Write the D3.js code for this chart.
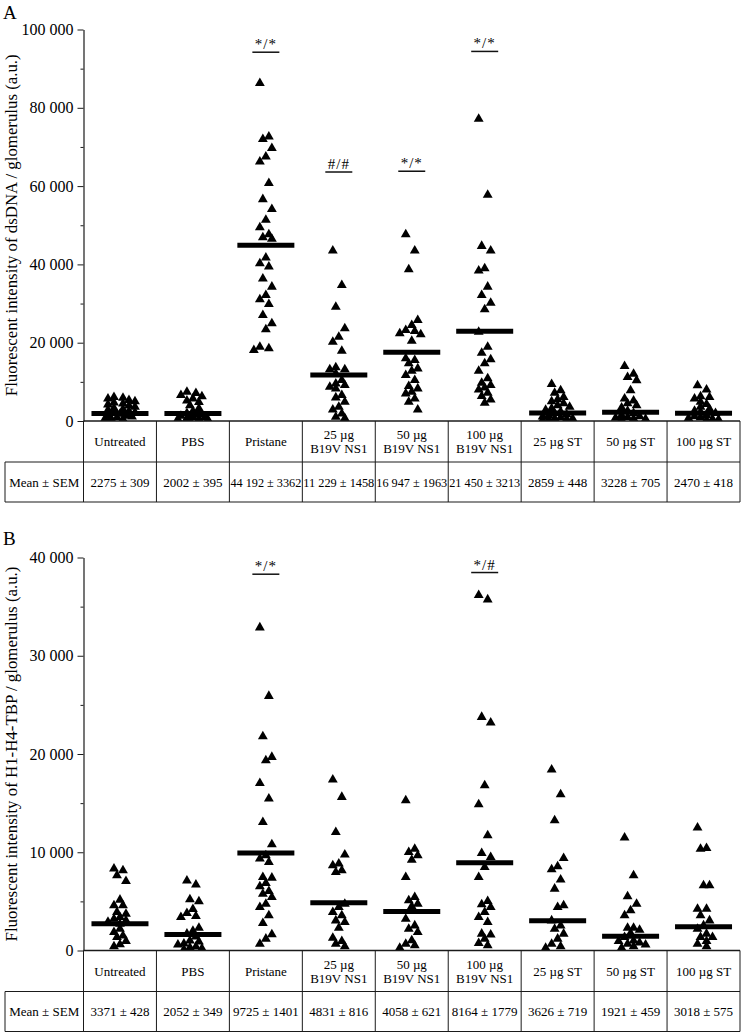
<!DOCTYPE html>
<html>
<head>
<meta charset="utf-8">
<script src="https://cdn.jsdelivr.net/npm/d3@7"></script>
<style>
  html, body { margin: 0; padding: 0; background: #fff; }
  svg { display: block; }
  text { font-family: "Liberation Serif", "DejaVu Serif", serif; fill: #000; }
</style>
</head>
<body>
<script>
// ---------------- DATA ----------------
const categories = ["Untreated", "PBS", "Pristane", "25 µg|B19V NS1", "50 µg|B19V NS1",
                    "100 µg|B19V NS1", "25 µg ST", "50 µg ST", "100 µg ST"];

// Panel A : dsDNA
const untreatedA = [6100, 5900, 5700, 5300, 5000, 4700, 4400, 4200, 3900, 3600, 3300, 3000, 2800, 2500, 2200, 2000, 1800, 1500, 1300, 1100, 900, 700, 600, 500];
const pbsA = [7400, 7100, 6600, 6300, 5700, 5200, 4800, 4000, 3200, 2500, 2000, 1600, 1300, 1000, 900, 700, 600, 500, 400, 300];
const pristaneA = [86300, 72650, 71980, 69680, 67530, 66250, 60730, 56630, 54080, 51340, 49470, 47680, 46910, 46500, 41700, 40260, 39400, 36330, 34280, 32150, 31050, 29850, 27040, 24910, 23380, 18930, 18520, 18100];
const ns25A = [43490, 34710, 29160, 23640, 21490, 20210, 17910, 13660, 13150, 13150, 12120, 10410, 9560, 9130, 8700, 8280, 6570, 5990, 4860, 3580, 2920, 1890, 1020, 690];
const ns50A = [47680, 43490, 38720, 25760, 24480, 23200, 22950, 22360, 22100, 20460, 15960, 15530, 14680, 13400, 12790, 11690, 10410, 8880, 8290, 7420, 7010, 5730, 4860, 2920];
const ns100A = [77180, 57730, 44690, 43490, 38980, 38370, 34280, 32150, 30180, 28490, 22770, 18930, 17390, 15710, 14680, 12790, 10850, 9720, 9130, 8540, 8030, 7160, 6320, 5470, 4600];
const st25A = [9400, 7800, 7200, 6100, 5500, 5000, 4500, 4000, 3600, 3200, 2800, 2400, 2000, 1700, 1400, 1100, 900, 700, 600, 500, 400, 300];
const st50A = [14000, 12000, 11200, 10400, 7800, 5700, 5200, 4500, 4000, 3400, 2600, 2000, 1500, 1200, 1000, 800, 600, 500, 400];
const st100A = [9100, 8000, 6300, 6100, 5700, 4900, 4300, 3600, 3100, 2600, 2300, 2000, 1500, 1200, 900, 700, 500, 400, 300];
const barA = [1890, 1890, 44870, 11770, 17570, 22950, 2050, 2230, 1970];
const semA = ["2275 ± 309", "2002 ± 395", "44 192 ± 3362", "11 229 ± 1458", "16 947 ± 1963",
              "21 450 ± 3213", "2859 ± 448", "3228 ± 705", "2470 ± 418"];
const ticksA = [0, 20000, 40000, 60000, 80000, 100000];
const minorA = [10000, 30000, 50000, 70000, 90000];
const sigA = [
  { cat: "Pristane", label: "*/*", level: 94200 },
  { cat: "25 µg|B19V NS1", label: "#/#", level: 63600 },
  { cat: "50 µg|B19V NS1", label: "*/*", level: 63800 },
  { cat: "100 µg|B19V NS1", label: "*/*", level: 94400 }
];

// Panel B : H1-H4-TBP
const untreatedB = [8320, 8150, 7640, 7060, 5160, 4580, 4580, 3900, 3730, 3390, 3220, 3050, 2900, 2710, 2200, 1870, 1500, 1360, 950, 610, 410];
const pbsB = [7100, 6700, 5200, 5000, 4200, 3800, 3500, 3400, 2300, 2000, 1700, 1400, 1000, 900, 700, 600, 400, 300, 200, 100];
const pristaneB = [32870, 25900, 21800, 19690, 19350, 17040, 15450, 13070, 10800, 9680, 9340, 8990, 7470, 7400, 6860, 6520, 6040, 5760, 5430, 4750, 4410, 3570, 2780, 1630, 1190, 680];
const ns25B = [17390, 15620, 12050, 9750, 8830, 8660, 8150, 7980, 4750, 4410, 3900, 3570, 3050, 2880, 2300, 1290, 950, 680, 410];
const ns50B = [15280, 10350, 10010, 9680, 9220, 7470, 5430, 5090, 4750, 4480, 3220, 2540, 2200, 1870, 1020, 680, 510, 270];
const ns100B = [36160, 35720, 23760, 23190, 16810, 14870, 11710, 9910, 9500, 8490, 7470, 5020, 4680, 4410, 3900, 3390, 2880, 1700, 1600, 1190, 750, 510];
const st25B = [18400, 15890, 13240, 9400, 8560, 8250, 7200, 6280, 4580, 4410, 3050, 2540, 2200, 1700, 1190, 680, 410, 270];
const st50B = [11480, 7640, 5500, 4750, 4070, 3570, 2300, 2300, 2100, 1770, 1360, 1000, 950, 800, 680, 600, 410, 270];
const st100B = [12500, 10420, 10350, 6620, 6620, 4240, 4240, 3570, 3050, 2540, 2200, 1700, 1360, 1360, 950, 680, 410];
const barB = [2720, 1630, 9915, 4860, 3975, 8935, 3025, 1460, 2410];
const semB = ["3371 ± 428", "2052 ± 349", "9725 ± 1401", "4831 ± 816", "4058 ± 621",
              "8164 ± 1779", "3626 ± 719", "1921 ± 459", "3018 ± 575"];
const ticksB = [0, 10000, 20000, 30000, 40000];
const minorB = [5000, 15000, 25000, 35000];
const sigB = [
  { cat: "Pristane", label: "*/*", level: 38300 },
  { cat: "100 µg|B19V NS1", label: "*/#", level: 38470 }
];

const rowLabel = "Mean ± SEM";

// ---------------- DRAWING ----------------
const W = 743, H = 1035;
const svg = d3.select("body").append("svg").attr("width", W).attr("height", H);
const fmt = d3.formatLocale({ decimal: ".", thousands: " ", grouping: [3], currency: ["", ""] }).format(",d");
const LINE = "#1a1a1a";

function swarm(vals, y, cx) {
  const pts = vals.map(v => ({ v, py: y(v) })).sort((a, b) => b.v - a.v);
  const placed = [];
  const steps = [];
  for (let k = -5; k <= 5; k++) steps.push(k * 3);
  pts.forEach((p, i) => {
    const pref = ((i * 3) % 5 - 2) * 3;
    const cand = steps.slice().sort((a, b) => Math.abs(a - pref) - Math.abs(b - pref) || a - b);
    let best = cand[0], bestScore = -1;
    for (const o of cand) {
      let minD = Infinity;
      for (const q of placed) {
        const dx = (q.px - (cx + o)) / 6, dy = (q.py - p.py) / 5;
        const d = Math.hypot(dx, dy);
        if (d < minD) minD = d;
      }
      if (minD >= 1) { best = o; bestScore = minD; break; }
      if (minD > bestScore) { bestScore = minD; best = o; }
    }
    p.px = cx + best;
    placed.push(p);
  });
  return placed;
}

function panel(cfg) {
  const g = svg.append("g");
  const y = d3.scaleLinear().domain([0, cfg.max]).range([cfg.y0, cfg.y1]);
  const x = d3.scaleBand().domain(categories).range([83.5, 740]).padding(0);
  const bw = x.bandwidth();

  // panel letter
  g.append("text").attr("x", 3).attr("y", cfg.letterY).attr("font-size", 19).text(cfg.letter);

  // y title, sized to span the axis as in the reference
  const t = g.append("text")
    .attr("transform", `translate(17,${(cfg.y0 + cfg.y1) / 2}) rotate(-90)`)
    .attr("text-anchor", "middle").attr("font-size", 16).text(cfg.title);
  const len = t.node().getComputedTextLength();
  t.attr("font-size", Math.min(17, 16 * cfg.titleLen / len));

  // minor ticks
  const minorAxis = d3.axisLeft(y).tickValues(cfg.minor).tickSize(3).tickFormat("");
  const gm = g.append("g").attr("transform", "translate(83.5,0)").call(minorAxis);
  gm.select(".domain").remove();
  gm.selectAll("line").attr("stroke", LINE);

  // major axis
  const axis = d3.axisLeft(y).tickValues(cfg.ticks).tickSize(6).tickSizeOuter(0).tickPadding(4).tickFormat(fmt);
  const ga = g.append("g").attr("transform", "translate(83.5,0)").call(axis);
  ga.select(".domain").attr("stroke", LINE).attr("stroke-width", 1.2);
  ga.selectAll("line").attr("stroke", LINE);
  ga.selectAll("text").attr("font-family", "Liberation Serif").attr("font-size", 16).attr("fill", "#000");

  // clip for points
  const clipId = "clip" + cfg.letter;
  svg.append("clipPath").attr("id", clipId).append("rect")
    .attr("x", 84).attr("y", cfg.y1 - 20).attr("width", 660).attr("height", cfg.y0 - cfg.y1 + 20);
  const pg = g.append("g").attr("clip-path", `url(#${clipId})`);

  const tri = d3.symbol().type(d3.symbolTriangle).size(42);
  categories.forEach((c, i) => {
    const cx = x(c) + bw / 2;
    const pts = swarm(cfg.series[i], y, cx);
    pg.selectAll(null).data(pts).enter().append("path")
      .attr("d", tri)
      .attr("transform", d => `translate(${d.px},${d.py})`)
      .attr("fill", "#000");
    pg.append("line")
      .attr("x1", cx - 28.5).attr("x2", cx + 28.5)
      .attr("y1", y(cfg.bars[i])).attr("y2", y(cfg.bars[i]))
      .attr("stroke", "#000").attr("stroke-width", 5);
  });

  // significance marks
  cfg.sig.forEach(s => {
    const cx = x(s.cat) + bw / 2;
    const ly = y(s.level);
    g.append("line").attr("x1", cx - 13.5).attr("x2", cx + 13.5)
      .attr("y1", ly).attr("y2", ly).attr("stroke", "#111").attr("stroke-width", 1.5);
    g.append("text").attr("x", cx).attr("y", ly - 3).attr("text-anchor", "middle")
      .attr("font-size", 15).attr("letter-spacing", 1).text(s.label);
  });

  // table
  const top = cfg.y0, mid = top + 41, bot = mid + 40;
  const tg = g.append("g");
  tg.append("line").attr("x1", 83.5).attr("x2", 740).attr("y1", top).attr("y2", top)
    .attr("stroke", LINE).attr("stroke-width", 1.5);
  tg.append("line").attr("x1", 5).attr("x2", 740).attr("y1", mid).attr("y2", mid)
    .attr("stroke", LINE).attr("stroke-width", 1);
  tg.append("line").attr("x1", 5).attr("x2", 740).attr("y1", bot).attr("y2", bot)
    .attr("stroke", LINE).attr("stroke-width", 1.2);
  tg.append("line").attr("x1", 5).attr("x2", 5).attr("y1", mid).attr("y2", bot)
    .attr("stroke", LINE).attr("stroke-width", 1);
  const edges = categories.map(c => x(c)).concat([740]);
  tg.selectAll(null).data(edges).enter().append("line")
    .attr("x1", d => d).attr("x2", d => d).attr("y1", top).attr("y2", bot)
    .attr("stroke", LINE).attr("stroke-width", 1);

  function fitText(sel, maxW) {
    sel.each(function () {
      const l = this.getComputedTextLength();
      if (l > maxW) d3.select(this).attr("textLength", maxW).attr("lengthAdjust", "spacingAndGlyphs");
    });
  }

  categories.forEach((c, i) => {
    const cx = x(c) + bw / 2;
    const parts = c.split("|");
    const cy = (top + mid) / 2;
    parts.forEach((p, j) => {
      const yy = cy + 4.5 + (j - (parts.length - 1) / 2) * 14;
      tg.append("text").attr("x", cx).attr("y", yy).attr("text-anchor", "middle")
        .attr("font-size", 13).text(p).call(fitText, bw - 3);
    });
    tg.append("text").attr("x", cx).attr("y", (mid + bot) / 2 + 4.5).attr("text-anchor", "middle")
      .attr("font-size", 13).text(cfg.sem[i]).call(fitText, bw - 2);
  });
  tg.append("text").attr("x", (5 + 83.5) / 2).attr("y", (mid + bot) / 2 + 4.5).attr("text-anchor", "middle")
    .attr("font-size", 13).text(rowLabel).call(fitText, 76);
}

panel({
  letter: "A", letterY: 19,
  title: "Fluorescent intensity of dsDNA / glomerulus (a.u.)", titleLen: 342,
  max: 100000, y0: 421, y1: 29.5,
  ticks: ticksA, minor: minorA,
  series: [untreatedA, pbsA, pristaneA, ns25A, ns50A, ns100A, st25A, st50A, st100A],
  bars: barA, sem: semA, sig: sigA
});

panel({
  letter: "B", letterY: 545,
  title: "Fluorescent intensity of H1-H4-TBP / glomerulus (a.u.)", titleLen: 375,
  max: 40000, y0: 950.5, y1: 557.5,
  ticks: ticksB, minor: minorB,
  series: [untreatedB, pbsB, pristaneB, ns25B, ns50B, ns100B, st25B, st50B, st100B],
  bars: barB, sem: semB, sig: sigB
});
</script>
</body>
</html>
